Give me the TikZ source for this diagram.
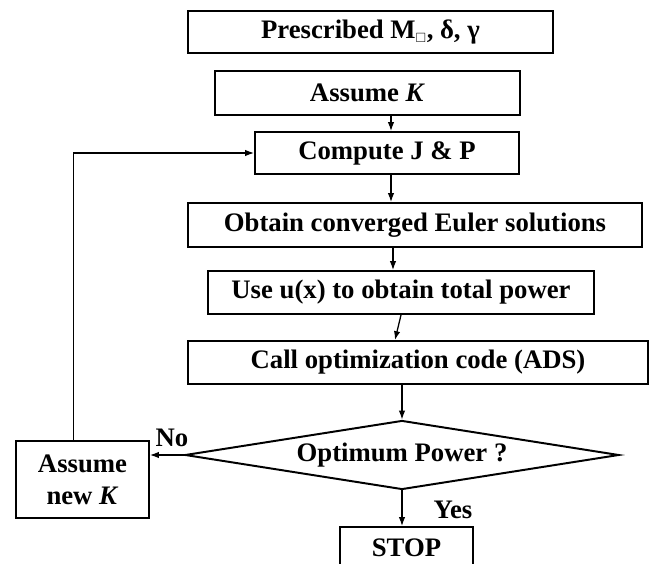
\documentclass[tikz,border=0pt]{standalone}
\usepackage{fontspec}
\usepackage{amssymb}
\setmainfont{Liberation Serif}
\usetikzlibrary{positioning, shapes.geometric, arrows.meta}

\begin{document}
\begin{tikzpicture}[x=0.025cm, y=-0.025cm,
    stepbox/.style={rectangle, draw=black, line width=1.4pt, minimum width=#1*0.025cm, minimum height=42*0.025cm, inner sep=0pt, align=center, font=\fontsize{19}{22.5}\selectfont\bfseries},
    decision/.style={diamond, draw=black, line width=1.4pt, aspect=6.3, inner sep=0pt, minimum width=434*0.025cm, minimum height=69*0.025cm, font=\fontsize{19}{22.5}\selectfont\bfseries},
    arrow/.style={-{Latex[length=2.2mm, width=1.6mm]}, line width=0.9pt},
    lbl/.style={font=\fontsize{19}{22.5}\selectfont\bfseries, inner sep=0pt}]

    \useasboundingbox (0,0) rectangle (652,564);

    % Main chain of steps
    \node[stepbox=365] (pres) at (370.5,32) {Prescribed M$_{\scriptscriptstyle\square}$, δ, γ};
    \node[stepbox=305, minimum height=44*0.025cm] (ask) at (367.5,93) {Assume \textit{K}};
    \node[stepbox=264] (comp) at (387,153) {Compute J \& P};
    \node[stepbox=454, minimum height=44*0.025cm] (euler) at (415,225) {Obtain converged Euler solutions};
    \node[stepbox=386, minimum height=43*0.025cm] (usex) at (401,292.5) {Use u(x) to obtain total power};
    \node[stepbox=460, minimum height=43*0.025cm] (ads) at (418,362.5) {Call optimization code (ADS)};
    \node[decision] (opt) at (402,455) {Optimum Power ?};
    \node[stepbox=133, minimum height=77*0.025cm] (newk) at (82.5,479.5) {Assume\\new \textit{K}};
    \node[stepbox=133] (stop) at (406.5,548) {STOP};

    % Arrows down the chain
    \draw[arrow] ([xshift=0.1cm]ask.south -| comp.north) -- ([xshift=0.1cm]comp.north);
    \draw[arrow] ([xshift=0.1cm]comp.south) -- ([xshift=0.1cm]comp.south |- euler.north);
    \draw[arrow] ([xshift=-0.2cm]usex.north |- euler.south) -- ([xshift=-0.2cm]usex.north);
    \draw[arrow] (usex.south) -- ([xshift=-0.575cm]ads.north);
    \draw[arrow] (ads.south -| opt.north) -- (opt.north);
    \draw[arrow] (opt.south) -- (opt.south |- stop.north);

    % Decision branches
    \draw[arrow] (opt.west) -- (opt.west -| newk.east);
    \draw[arrow] ([xshift=-0.22cm]newk.north) |- (comp.west);
    \node[lbl] (no) at (172,438) {No};
    \node[lbl] (yes) at (453,510) {Yes};
\end{tikzpicture}
\end{document}
